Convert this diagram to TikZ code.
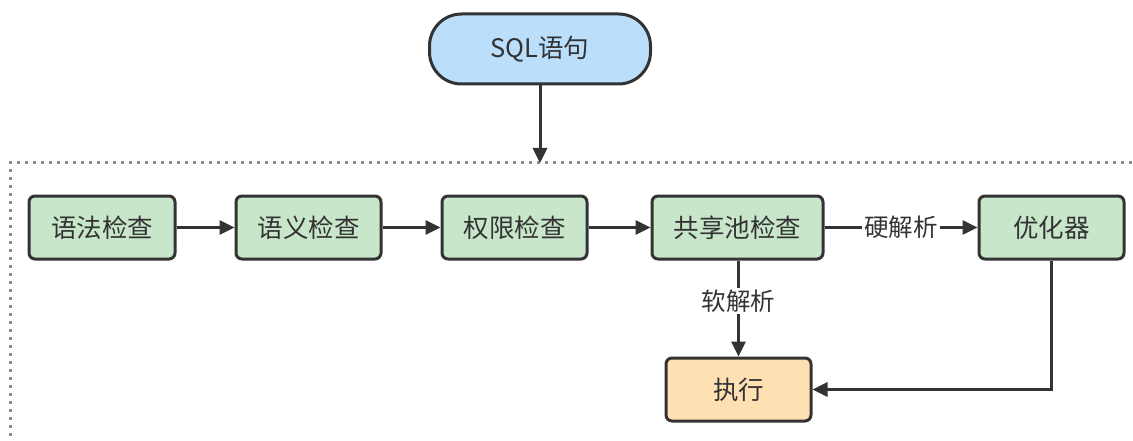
\documentclass[tikz,border=0pt]{standalone}
\usepackage{fontspec}
\setmainfont{Noto Sans CJK SC}
\usetikzlibrary{arrows.meta}
\definecolor{txt}{HTML}{333333}
\definecolor{ln}{HTML}{333333}
\definecolor{gfill}{HTML}{C8E6C9}
\definecolor{bfill}{HTML}{BBDEFB}
\definecolor{ofill}{HTML}{FFE0B2}
\begin{document}
\begin{tikzpicture}[x=1pt,y=-1pt,
  box/.style={draw=ln,line width=3pt,rounded corners=6pt,fill=gfill,minimum height=63pt,text=txt,font=\fontsize{25.5}{28}\selectfont,inner sep=0pt},
  conn/.style={draw=ln,line width=3pt,-{Triangle[length=15pt,width=14pt]}},
  lbl/.style={fill=white,text=txt,font=\fontsize{24.5}{28}\selectfont,inner sep=2pt}]
\useasboundingbox (0,0) rectangle (1133,441);
\draw[line width=3pt,color=black!45,dash pattern=on 3pt off 5pt] (1140,163) -- (10,163) -- (10,450);
\node[box,fill=bfill,rounded corners=32pt,minimum width=221pt,minimum height=70pt] (sql) at (540,49) {SQL语句};
\node[box,minimum width=146pt] (a) at (102,227.5) {语法检查};
\node[box,minimum width=145pt] (b) at (308.5,227.5) {语义检查};
\node[box,minimum width=145pt] (c) at (514.5,227.5) {权限检查};
\node[box,minimum width=171pt] (d) at (737.5,227.5) {共享池检查};
\node[box,minimum width=145pt] (e) at (1051.5,227.5) {优化器};
\node[box,fill=ofill,minimum width=145pt] (f) at (738.5,389.5) {执行};
\coordinate (dl) at (540,163);
\draw[conn] (sql) -- (dl);
\draw[conn] (a) -- (b);
\draw[conn] (b) -- (c);
\draw[conn] (c) -- (d);
\draw[conn] (d) -- node[lbl] {硬解析} (e);
\draw[conn] (d.south -| f.north) -- node[lbl,pos=0.42] {软解析} (f.north);
\draw[conn] (e.south) |- (f.east);
\end{tikzpicture}
\end{document}
